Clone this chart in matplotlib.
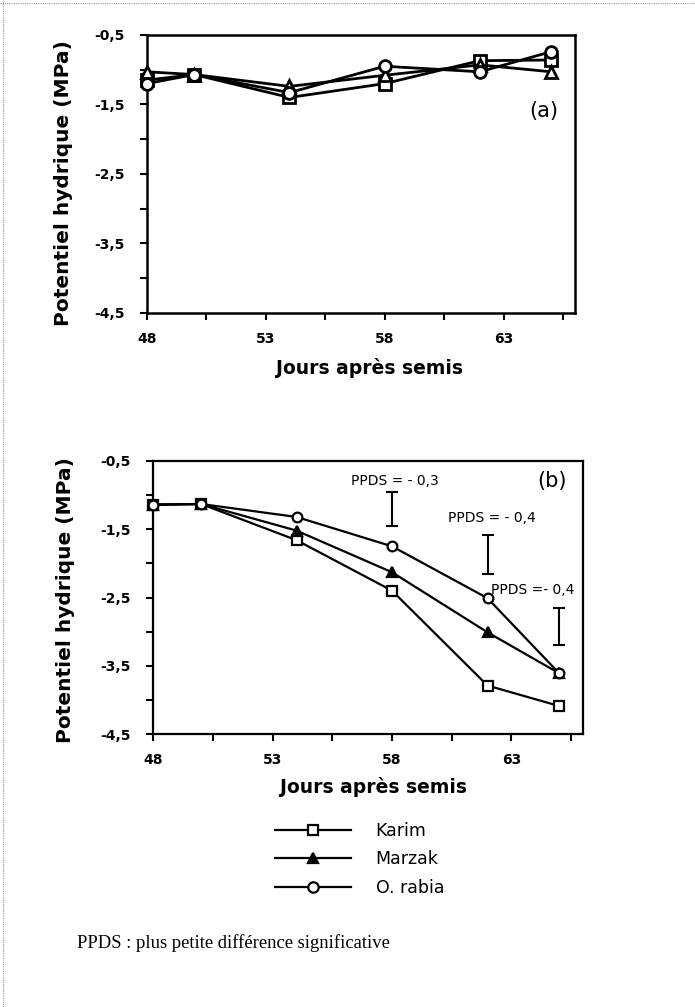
import matplotlib
matplotlib.use("Agg")
import matplotlib.pyplot as plt
from matplotlib.lines import Line2D
from matplotlib.ticker import FixedLocator

# ---------------- data ----------------
days = [48, 50, 54, 58, 62, 65]
varieties = ["Karim", "Marzak", "O. rabia"]

# panel (a)
a_karim = [-1.15, -1.07, -1.40, -1.20, -0.87, -0.86]
a_marzak = [-1.03, -1.07, -1.24, -1.08, -0.93, -1.03]
a_orabia = [-1.20, -1.07, -1.33, -0.95, -1.03, -0.74]

# panel (b)
b_karim = [-1.14, -1.13, -1.66, -2.40, -3.79, -4.09]
b_marzak = [-1.14, -1.13, -1.52, -2.13, -3.01, -3.61]
b_orabia = [-1.14, -1.13, -1.32, -1.75, -2.51, -3.61]

# PPDS bars (panel b)
ppds_x = [58, 62, 65]
ppds_center = [-1.20, -1.87, -2.92]
ppds_half = [0.25, 0.28, 0.27]
ppds_labels = ["PPDS = - 0,3", "PPDS = - 0,4", "PPDS =- 0,4"]

ytick_labels = ["-0,5", "-1,5", "-2,5", "-3,5", "-4,5"]
ytick_values = [-0.5, -1.5, -2.5, -3.5, -4.5]
xtick_values = [48, 53, 58, 63]

markers = ["s", "^", "o"]
facecolors = ["white", "black", "white"]

W, H = 695, 1007
fig = plt.figure(figsize=(W / 100, H / 100), dpi=100)


def axrect(l, r, t, b):
    return [l / W, 1 - b / H, (r - l) / W, (b - t) / H]


ax_a = fig.add_axes(axrect(146.7, 575, 35, 312.7))
ax_b = fig.add_axes(axrect(153.3, 583, 461, 734))

bold = dict(family="DejaVu Sans", weight="bold")


def style(ax, lw):
    ax.set_xlim(48, 66)
    ax.set_ylim(-4.5, -0.5)
    ax.xaxis.set_major_locator(FixedLocator(xtick_values))
    ax.xaxis.set_minor_locator(FixedLocator([50.5, 55.5, 60.5, 65.5]))
    ax.yaxis.set_major_locator(FixedLocator(ytick_values))
    ax.yaxis.set_minor_locator(FixedLocator([-1, -2, -3, -4]))
    ax.set_yticklabels(ytick_labels, fontsize=10, **bold)
    ax.set_xticklabels([str(v) for v in xtick_values], fontsize=10, **bold)
    ax.tick_params(axis="both", which="both", direction="out", length=5,
                   width=1.5, color="black")
    ax.tick_params(axis="y", which="major", pad=11)
    ax.tick_params(axis="x", which="major", pad=9)
    for s in ax.spines.values():
        s.set_linewidth(lw)
    ax.set_ylabel("Potentiel hydrique (MPa)", fontsize=14.5, **bold)
    ax.set_xlabel("Jours après semis", fontsize=13.5, **bold)


style(ax_a, 1.8)
style(ax_b, 1.6)

# panel (a)
for vals, m in zip([a_karim, a_marzak, a_orabia], markers):
    ax_a.plot(days, vals, color="black", lw=2.0, marker=m, ms=8.5,
              mfc="white", mec="black", mew=2.0,
              clip_on=False, zorder=3)
ax_a.text(64.7, -1.6, "(a)", fontsize=15, ha="center", va="center")
ax_a.yaxis.set_label_coords(-0.172, 0.467)
ax_a.xaxis.set_label_coords(0.521, -0.163)

# panel (b)
for vals, m, fc in zip([b_karim, b_marzak, b_orabia], markers, facecolors):
    ax_b.plot(days, vals, color="black", lw=1.6, marker=m, ms=7,
              mfc=fc, mec="black", mew=1.6, clip_on=False, zorder=3)
ax_b.errorbar(ppds_x, ppds_center, yerr=ppds_half, fmt="none", ecolor="black",
              elinewidth=1.5, capsize=4, capthick=1.5)
ax_b.text(58.1, -0.80, ppds_labels[0], fontsize=10, ha="center", va="center")
ax_b.text(62.2, -1.33, ppds_labels[1], fontsize=10, ha="center", va="center")
ax_b.text(63.9, -2.39, ppds_labels[2], fontsize=10, ha="center", va="center")
ax_b.text(64.7, -0.80, "(b)", fontsize=15, ha="center", va="center")
ax_b.yaxis.set_label_coords(-0.183, 0.49)
ax_b.xaxis.set_label_coords(0.512, -0.157)

# legend
handles = [Line2D([], [], color="black", lw=1.6, marker=m, ms=7.5,
                  mfc=fc, mec="black", mew=1.6)
           for m, fc in zip(markers, facecolors)]
fig.legend(handles, varieties, loc="upper left",
           bbox_to_anchor=(275 / W, 1 - 822 / H), frameon=False,
           fontsize=12.5, handlelength=4.4, handletextpad=1.4,
           labelspacing=0.6, borderpad=0, borderaxespad=0)

# footnote
fig.text(76.7 / W, 1 - 943 / H, "PPDS : plus petite différence significative",
         family="Liberation Serif", fontsize=13.4, ha="left", va="center")

# page border (scan edge)
fig.add_artist(Line2D([0, 1], [1 - 3 / H, 1 - 3 / H], transform=fig.transFigure,
                      color="#999999", lw=0.8, ls=(0, (1, 1))))
fig.add_artist(Line2D([3 / W, 3 / W], [0, 1], transform=fig.transFigure,
                      color="#999999", lw=0.8, ls=(0, (1, 1))))

fig.savefig("out.png", dpi=100)
